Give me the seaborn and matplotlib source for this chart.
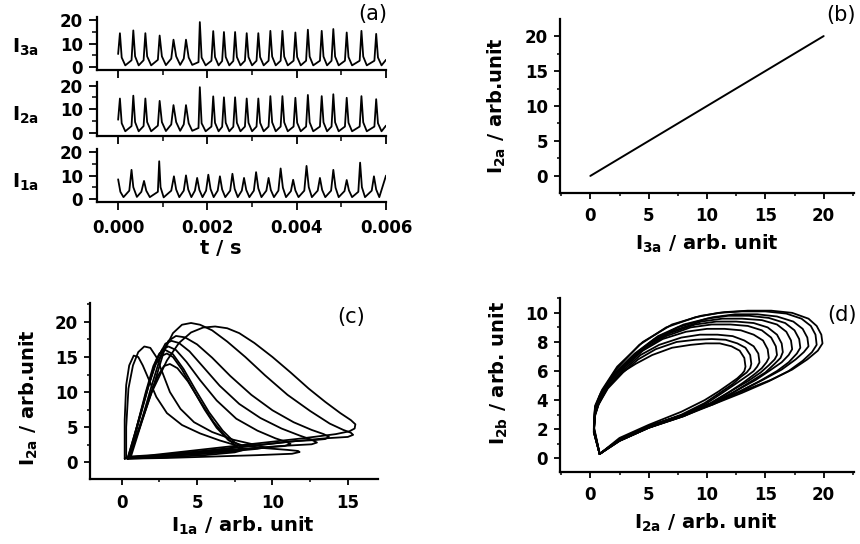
import numpy as np
import pandas as pd
import matplotlib
matplotlib.use("Agg")
import matplotlib.pyplot as plt
import seaborn as sns
from matplotlib.ticker import MultipleLocator, FormatStrFormatter

# ---------------- panel (a): time series ----------------
t_3a = [0.00000, 0.00004, 0.00008, 0.00016,
        0.00030, 0.00034, 0.00038, 0.00046, 0.00057, 0.00061, 0.00065, 0.00074,
        0.00089, 0.00093, 0.00098, 0.00107, 0.00119, 0.00124, 0.00130, 0.00139,
        0.00147, 0.00152, 0.00158, 0.00166, 0.00180, 0.00183, 0.00187, 0.00196,
        0.00209, 0.00213, 0.00217, 0.00225, 0.00233, 0.00237, 0.00241, 0.00249,
        0.00258, 0.00262, 0.00266, 0.00274, 0.00284, 0.00288, 0.00292, 0.00300,
        0.00310, 0.00314, 0.00318, 0.00326, 0.00337, 0.00341, 0.00345, 0.00353,
        0.00364, 0.00368, 0.00372, 0.00380, 0.00393, 0.00397, 0.00401, 0.00409,
        0.00421, 0.00425, 0.00429, 0.00437, 0.00452, 0.00456, 0.00460, 0.00468,
        0.00478, 0.00482, 0.00486, 0.00494, 0.00508, 0.00512, 0.00516, 0.00524,
        0.00541, 0.00545, 0.00549, 0.00557, 0.00574, 0.00578, 0.00582, 0.00590,
        0.00600]
I_3a = [5.5, 14.5, 4.0, 0.6,
        2.8, 15.7, 4.5, 0.6, 2.8, 14.5, 4.5, 0.6,
        3.0, 13.5, 4.5, 0.7, 3.5, 11.7, 4.5, 0.8,
        3.5, 11.7, 4.0, 0.8, 2.0, 19.3, 4.0, 0.6,
        2.6, 15.4, 4.2, 0.6, 2.5, 15.0, 4.2, 0.6,
        2.5, 15.0, 4.2, 0.6, 2.6, 14.5, 4.2, 0.6,
        2.6, 14.5, 4.2, 0.6, 2.6, 15.5, 4.4, 0.6,
        2.6, 15.5, 4.4, 0.6, 2.6, 14.8, 4.2, 0.6,
        2.6, 16.0, 4.4, 0.6, 2.6, 15.5, 4.4, 0.6,
        2.6, 16.3, 4.4, 0.6, 2.6, 14.8, 4.2, 0.6,
        2.6, 15.5, 4.4, 0.6, 2.6, 14.2, 4.0, 0.6,
        3.0]
# I_2a is synchronized with I_3a (identical trace in the figure)
t_2a = list(t_3a)
I_2a = [5.5, 14.5, 4.0, 0.6,
        2.8, 15.7, 4.5, 0.6, 2.8, 14.5, 4.5, 0.6,
        3.0, 13.5, 4.5, 0.7, 3.5, 11.7, 4.5, 0.8,
        3.5, 11.7, 4.0, 0.8, 2.0, 19.3, 4.0, 0.6,
        2.6, 15.4, 4.2, 0.6, 2.5, 15.0, 4.2, 0.6,
        2.5, 15.0, 4.2, 0.6, 2.6, 14.5, 4.2, 0.6,
        2.6, 14.5, 4.2, 0.6, 2.6, 15.5, 4.4, 0.6,
        2.6, 15.5, 4.4, 0.6, 2.6, 14.8, 4.2, 0.6,
        2.6, 16.0, 4.4, 0.6, 2.6, 15.5, 4.4, 0.6,
        2.6, 16.3, 4.4, 0.6, 2.6, 14.8, 4.2, 0.6,
        2.6, 15.5, 4.4, 0.6, 2.6, 14.2, 4.0, 0.6,
        3.0]
t_1a = [0.00000, 0.00005, 0.00012,
        0.00025, 0.00030, 0.00034, 0.00042, 0.00052, 0.00058, 0.00063, 0.00071,
        0.00089, 0.00092, 0.00095, 0.00102, 0.00119, 0.00125, 0.00130, 0.00137,
        0.00147, 0.00152, 0.00157, 0.00164, 0.00172, 0.00177, 0.00182, 0.00189,
        0.00197, 0.00202, 0.00207, 0.00214, 0.00223, 0.00228, 0.00233, 0.00240,
        0.00251, 0.00256, 0.00261, 0.00268, 0.00277, 0.00282, 0.00287, 0.00294,
        0.00304, 0.00309, 0.00314, 0.00321, 0.00332, 0.00337, 0.00342, 0.00349,
        0.00359, 0.00364, 0.00369, 0.00376, 0.00387, 0.00392, 0.00397, 0.00404,
        0.00417, 0.00422, 0.00427, 0.00434, 0.00447, 0.00452, 0.00457, 0.00464,
        0.00477, 0.00482, 0.00487, 0.00494, 0.00507, 0.00512, 0.00517, 0.00524,
        0.00538, 0.00542, 0.00546, 0.00553, 0.00568, 0.00573, 0.00578, 0.00585,
        0.00600]
I_1a = [8.4, 3.0, 0.7,
        3.5, 12.5, 5.0, 0.8, 3.0, 7.7, 3.5, 0.7,
        3.0, 16.2, 5.0, 0.6, 3.5, 9.7, 4.0, 0.7,
        3.5, 10.1, 4.0, 0.7, 3.5, 9.0, 3.8, 0.7,
        3.5, 10.4, 4.2, 0.7, 3.5, 9.7, 4.0, 0.7,
        3.5, 10.8, 4.3, 0.7, 3.5, 9.0, 3.8, 0.7,
        3.5, 11.5, 4.5, 0.7, 3.5, 9.0, 3.8, 0.7,
        3.5, 13.1, 4.8, 0.7, 3.3, 8.2, 3.6, 0.7,
        3.5, 14.2, 5.0, 0.7, 3.5, 9.0, 3.8, 0.7,
        3.5, 12.5, 4.8, 0.7, 3.3, 8.1, 3.6, 0.7,
        3.0, 15.6, 5.0, 0.7, 3.5, 9.7, 4.0, 0.7,
        10.0]

# ---------------- panel (b): I_2a vs I_3a ----------------
b_I3a = [0.0, 20.0]
b_I2a = [0.0, 20.0]

# ---------------- panel (c): I_2a vs I_1a loops ----------------
c_loops_x = [
    [0.5, 1.2, 2.0, 3.0, 3.8, 4.6, 5.4, 6.2, 7.0, 7.8, 8.8, 10.0, 11.2, 12.4, 13.5, 14.5, 15.2, 15.5, 15.45, 15.1, 14.2, 12.0, 9.5, 7.0, 4.5, 2.0, 0.5],
    [0.6, 1.3, 2.2, 2.8, 3.4, 4.0, 4.6, 5.2, 6.0, 7.0, 8.2, 9.5, 11.0, 12.5, 13.8, 14.7, 15.2, 15.35, 15.0, 13.5, 11.0, 8.0, 5.0, 2.5, 0.6],
    [0.5, 1.2, 2.0, 2.6, 3.1, 3.6, 4.2, 5.0, 6.0, 7.2, 8.6, 10.0, 11.4, 12.6, 13.4, 13.75, 13.5, 12.8, 11.5, 9.0, 6.0, 3.0, 0.5],
    [0.4, 1.0, 1.8, 2.4, 2.9, 3.3, 3.8, 4.5, 5.4, 6.5, 7.8, 9.2, 10.6, 11.8, 12.6, 12.95, 12.6, 10.5, 8.0, 5.0, 2.5, 0.4],
    [0.5, 1.1, 1.8, 2.3, 2.7, 3.1, 3.6, 4.3, 5.2, 6.3, 7.6, 9.0, 10.2, 10.9, 11.2, 10.8, 9.0, 6.5, 4.0, 1.5, 0.5],
    [0.4, 1.0, 1.7, 2.2, 2.6, 3.0, 3.4, 4.0, 4.7, 5.5, 6.3, 7.1, 8.0, 9.5, 11.0, 11.7, 11.8, 11.3, 9.0, 6.0, 3.0, 0.4],
    [0.4, 1.1, 1.8, 2.4, 2.8, 3.2, 3.7, 4.4, 5.2, 6.1, 7.0, 7.7, 8.0, 7.5, 5.5, 3.0, 0.4],
    [0.5, 1.0, 1.6, 2.1, 2.5, 2.9, 3.4, 4.1, 4.9, 5.8, 6.7, 7.5, 8.0, 7.6, 5.5, 3.0, 0.5],
    [0.3, 0.3, 0.45, 0.75, 1.1, 1.5, 1.9, 2.3, 2.7, 3.2, 3.9, 4.8, 6.0, 7.4, 8.8, 9.5, 9.0, 7.0, 4.5, 2.0, 0.3],
    [0.2, 0.2, 0.3, 0.5, 0.8, 1.1, 1.4, 1.8, 2.3, 3.0, 4.0, 5.2, 6.5, 7.6, 7.2, 5.0, 2.5, 0.2],
]
c_loops_y = [
    [0.8, 5.0, 10.0, 14.5, 17.0, 18.5, 19.2, 19.35, 19.1, 18.4, 17.0, 15.0, 12.8, 10.5, 8.6, 7.0, 6.0, 5.4, 4.8, 4.4, 4.0, 3.4, 2.8, 2.2, 1.6, 1.0, 0.8],
    [0.7, 5.5, 11.5, 15.8, 18.4, 19.6, 19.85, 19.6, 18.8, 17.2, 15.0, 12.4, 9.6, 7.3, 5.5, 4.6, 4.2, 3.9, 3.6, 3.4, 2.9, 2.2, 1.5, 1.0, 0.7],
    [0.7, 5.0, 11.0, 15.2, 17.3, 18.0, 17.8, 16.8, 14.9, 12.3, 9.6, 7.4, 5.7, 4.6, 4.0, 3.6, 3.3, 3.15, 3.0, 2.4, 1.7, 1.1, 0.7],
    [0.6, 5.0, 11.0, 14.9, 16.9, 17.3, 17.0, 15.8, 13.6, 10.9, 8.3, 6.3, 4.8, 3.8, 3.2, 2.8, 2.55, 2.3, 1.9, 1.4, 0.9, 0.6],
    [0.6, 5.5, 11.0, 14.6, 16.1, 16.5, 16.0, 14.3, 11.7, 8.8, 6.2, 4.5, 3.4, 2.9, 2.6, 2.3, 2.0, 1.5, 1.1, 0.7, 0.6],
    [0.5, 5.0, 10.5, 13.8, 15.1, 15.5, 15.0, 13.2, 10.5, 7.5, 4.9, 3.1, 2.4, 2.0, 1.75, 1.6, 1.45, 1.2, 1.0, 0.8, 0.6, 0.5],
    [0.5, 4.5, 9.0, 12.3, 13.7, 14.0, 13.4, 11.5, 8.7, 5.7, 3.4, 2.1, 1.7, 1.4, 1.0, 0.7, 0.5],
    [0.6, 5.0, 10.0, 13.7, 15.5, 16.0, 15.4, 13.3, 10.3, 7.1, 4.5, 2.8, 2.1, 1.6, 1.2, 0.9, 0.6],
    [0.6, 5.0, 10.5, 13.8, 15.7, 16.5, 16.3, 15.0, 12.8, 10.0, 7.6, 5.7, 4.3, 3.2, 2.5, 2.1, 1.9, 1.5, 1.1, 0.8, 0.6],
    [0.5, 6.0, 11.0, 13.8, 15.2, 15.0, 13.8, 11.8, 9.3, 7.0, 5.3, 4.1, 3.1, 2.4, 1.9, 1.3, 0.8, 0.5],
]

# ---------------- panel (d): I_2b vs I_2a loops ----------------
d_loops_x = [
    [0.8, 2.5, 5.0, 8.0, 10.5, 13.0, 15.5, 17.3, 18.6, 19.5, 19.9, 19.8, 19.4, 18.7, 17.3, 15.5, 13.5, 11.5, 9.5, 7.0, 4.5, 2.3, 1.0, 0.4, 0.3, 0.8],
    [0.8, 2.5, 5.0, 8.0, 10.5, 13.0, 15.3, 17.0, 18.2, 19.0, 19.4, 19.3, 18.9, 18.1, 16.8, 15.0, 13.0, 11.0, 9.0, 6.5, 4.2, 2.2, 0.9, 0.4, 0.3, 0.8],
    [0.8, 2.5, 5.0, 8.0, 10.5, 12.8, 14.8, 16.4, 17.6, 18.3, 18.7, 18.6, 18.2, 17.4, 16.0, 14.3, 12.4, 10.5, 8.0, 5.8, 3.8, 2.0, 0.8, 0.4, 0.3, 0.8],
    [0.8, 2.5, 5.0, 8.0, 10.5, 12.6, 14.5, 16.0, 17.0, 17.7, 18.0, 17.9, 17.5, 16.7, 15.3, 13.6, 11.8, 10.0, 7.5, 5.5, 3.6, 1.9, 0.8, 0.4, 0.3, 0.8],
    [0.8, 2.5, 5.0, 8.0, 10.5, 12.4, 14.2, 15.5, 16.4, 17.0, 17.3, 17.2, 16.8, 16.0, 14.7, 13.0, 11.3, 9.5, 7.2, 5.2, 3.4, 1.8, 0.8, 0.4, 0.3, 0.8],
    [0.8, 2.5, 5.0, 8.0, 10.3, 12.2, 13.8, 15.0, 15.8, 16.3, 16.5, 16.4, 16.0, 15.2, 14.0, 12.5, 10.8, 9.0, 6.8, 4.9, 3.2, 1.7, 0.7, 0.4, 0.3, 0.8],
    [0.8, 2.5, 5.0, 8.0, 10.3, 12.0, 13.5, 14.6, 15.3, 15.8, 16.0, 15.9, 15.5, 14.7, 13.5, 12.0, 10.4, 8.6, 6.5, 4.7, 3.1, 1.6, 0.7, 0.4, 0.3, 0.8],
    [0.8, 2.5, 5.0, 8.0, 10.2, 11.8, 13.1, 14.1, 14.7, 15.1, 15.3, 15.2, 14.8, 14.0, 12.9, 11.5, 10.0, 8.2, 6.2, 4.5, 3.0, 1.6, 0.7, 0.4, 0.3, 0.8],
    [0.8, 2.5, 5.0, 8.0, 10.0, 11.5, 12.6, 13.5, 14.0, 14.3, 14.5, 14.4, 14.0, 13.2, 12.2, 10.9, 9.4, 7.8, 5.9, 4.3, 2.9, 1.5, 0.7, 0.4, 0.3, 0.8],
    [0.8, 2.5, 5.0, 7.8, 9.8, 11.1, 12.2, 12.9, 13.4, 13.7, 13.8, 13.7, 13.3, 12.6, 11.6, 10.4, 9.0, 7.4, 5.6, 4.1, 2.8, 1.5, 0.7, 0.4, 0.3, 0.8],
    [0.8, 2.5, 5.0, 7.8, 9.8, 11.0, 11.9, 12.6, 13.0, 13.2, 13.3, 13.2, 12.8, 12.1, 11.1, 9.9, 8.6, 7.0, 5.3, 3.9, 2.7, 1.4, 0.7, 0.4, 0.3, 0.8],
]
d_loops_y = [
    [0.3, 1.3, 2.2, 3.0, 3.8, 4.6, 5.4, 6.1, 6.8, 7.4, 7.9, 8.5, 9.1, 9.6, 10.0, 10.15, 10.15, 10.05, 9.8, 9.2, 8.0, 6.3, 4.7, 3.6, 2.2, 0.3],
    [0.3, 1.2, 2.1, 3.0, 3.7, 4.5, 5.3, 6.0, 6.7, 7.3, 7.8, 8.5, 9.1, 9.6, 9.95, 10.1, 10.1, 10.0, 9.7, 9.0, 7.8, 6.1, 4.5, 3.5, 2.1, 0.3],
    [0.3, 1.3, 2.2, 3.0, 3.8, 4.6, 5.4, 6.1, 6.8, 7.3, 7.7, 8.3, 8.9, 9.4, 9.75, 9.9, 9.9, 9.7, 9.2, 8.4, 7.2, 5.8, 4.3, 3.4, 2.0, 0.3],
    [0.3, 1.2, 2.1, 2.9, 3.7, 4.5, 5.3, 6.0, 6.6, 7.2, 7.6, 8.2, 8.8, 9.3, 9.65, 9.8, 9.8, 9.6, 9.0, 8.2, 7.0, 5.6, 4.2, 3.4, 2.0, 0.3],
    [0.3, 1.3, 2.2, 3.0, 3.8, 4.6, 5.4, 6.1, 6.6, 7.1, 7.5, 8.1, 8.7, 9.2, 9.5, 9.6, 9.6, 9.4, 8.8, 8.0, 6.8, 5.5, 4.2, 3.3, 2.0, 0.3],
    [0.3, 1.2, 2.1, 2.9, 3.7, 4.5, 5.3, 5.9, 6.5, 6.9, 7.3, 7.9, 8.5, 9.0, 9.3, 9.4, 9.4, 9.2, 8.6, 7.8, 6.6, 5.3, 4.0, 3.2, 1.9, 0.3],
    [0.3, 1.3, 2.2, 3.0, 3.8, 4.6, 5.3, 5.9, 6.4, 6.8, 7.1, 7.7, 8.3, 8.8, 9.1, 9.2, 9.2, 9.0, 8.4, 7.6, 6.5, 5.2, 3.9, 3.1, 1.9, 0.3],
    [0.3, 1.2, 2.1, 2.9, 3.7, 4.5, 5.2, 5.8, 6.2, 6.6, 6.9, 7.5, 8.1, 8.5, 8.8, 8.9, 8.9, 8.7, 8.2, 7.4, 6.3, 5.0, 3.8, 3.0, 1.8, 0.3],
    [0.3, 1.3, 2.2, 3.0, 3.8, 4.6, 5.2, 5.7, 6.0, 6.3, 6.6, 7.2, 7.7, 8.1, 8.4, 8.5, 8.5, 8.3, 7.8, 7.1, 6.1, 4.9, 3.7, 3.0, 1.8, 0.3],
    [0.3, 1.3, 2.2, 3.0, 3.8, 4.5, 5.1, 5.6, 5.9, 6.2, 6.5, 7.1, 7.6, 7.9, 8.15, 8.2, 8.15, 8.0, 7.5, 6.8, 5.9, 4.8, 3.7, 3.0, 1.8, 0.3],
    [0.3, 1.4, 2.3, 3.2, 4.0, 4.6, 5.1, 5.5, 5.8, 6.0, 6.3, 6.9, 7.4, 7.7, 7.9, 7.9, 7.8, 7.6, 7.1, 6.5, 5.9, 4.9, 3.7, 2.9, 1.8, 0.3],
]

panel_labels = ["(a)", "(b)", "(c)", "(d)"]

for xs, ys in list(zip(c_loops_x, c_loops_y)) + list(zip(d_loops_x, d_loops_y)):
    assert len(xs) == len(ys)
assert len(t_3a) == len(I_3a) == len(I_2a) and len(t_1a) == len(I_1a)

# ---------------- styling ----------------
sns.set_style("ticks")
plt.rcParams["font.family"] = ["DejaVu Sans"]
plt.rcParams["font.weight"] = "bold"
plt.rcParams["axes.labelweight"] = "bold"
plt.rcParams["text.color"] = "black"
plt.rcParams["axes.labelcolor"] = "black"
plt.rcParams["xtick.color"] = "black"
plt.rcParams["ytick.color"] = "black"
plt.rcParams["mathtext.fontset"] = "custom"
plt.rcParams["mathtext.rm"] = "DejaVu Sans:bold"
plt.rcParams["mathtext.bf"] = "DejaVu Sans:bold"
plt.rcParams["mathtext.it"] = "DejaVu Sans:bold"
plt.rcParams["mathtext.default"] = "bf"

W, H = 860, 544
fig = plt.figure(figsize=(W / 100, H / 100), dpi=100)
fig.patch.set_facecolor("white")

TICK_FS = 12
LAB_FS = 14
LW = 1.3


def px_axes(l, t, r, b):
    return fig.add_axes([l / W, 1 - b / H, (r - l) / W, (b - t) / H])


def style(ax, maj=4.5, mino=2.5, xpad=6, ypad=4):
    sns.despine(ax=ax)
    ax.set_facecolor("white")
    for s in ["left", "bottom"]:
        ax.spines[s].set_linewidth(1.6)
        ax.spines[s].set_color("black")
    ax.tick_params(which="major", direction="out", length=maj, width=1.3,
                   colors="black", labelsize=TICK_FS)
    ax.tick_params(which="minor", direction="out", length=mino, width=1.1,
                   colors="black")
    ax.tick_params(axis="x", which="major", pad=xpad)
    ax.tick_params(axis="y", which="major", pad=ypad)
    ax.grid(False)


def sub(s):
    return r"$I_{%s}$" % s


# ---- panel (a) ----
a_boxes = [(96.7, 17, 386, 70), (96.7, 82, 386, 136), (96.7, 149, 386, 202)]
a_series = [(t_3a, I_3a, "3a"), (t_2a, I_2a, "2a"), (t_1a, I_1a, "1a")]
a_label_y = [0.43, 0.39, 0.38]
for i, (box, (tt, vv, nm)) in enumerate(zip(a_boxes, a_series)):
    ax = px_axes(*box)
    sns.lineplot(x=tt, y=vv, sort=False, estimator=None, color="black",
                 lw=LW, ax=ax)
    ax.set_xlim(-0.00048, 0.006)
    ax.set_ylim(-1.4, 21.5)
    ax.xaxis.set_major_locator(MultipleLocator(0.002))
    ax.xaxis.set_minor_locator(MultipleLocator(0.001))
    ax.yaxis.set_major_locator(MultipleLocator(10))
    ax.yaxis.set_minor_locator(MultipleLocator(5))
    ax.xaxis.set_major_formatter(FormatStrFormatter("%.3f"))
    style(ax, maj=6, mino=3.5, xpad=6, ypad=4)
    ax.set_ylabel(sub(nm), rotation=0, fontsize=LAB_FS, ha="center", va="center")
    ax.yaxis.set_label_coords(-0.245, a_label_y[i])
    if i < 2:
        ax.tick_params(axis="x", labelbottom=False)
        ax.set_xlabel("")
    else:
        ax.set_xlabel("t / s", fontsize=LAB_FS)
        ax.xaxis.set_label_coords(0.43, -0.70)

# ---- panel (b) ----
axb = px_axes(560, 19.3, 854, 192.7)
sns.lineplot(x=b_I3a, y=b_I2a, sort=False, estimator=None, color="black",
             lw=LW + 0.1, ax=axb)
axb.set_xlim(-2.6, 22.6)
axb.set_ylim(-2.4, 22.4)
axb.xaxis.set_major_locator(MultipleLocator(5))
axb.xaxis.set_minor_locator(MultipleLocator(2.5))
axb.yaxis.set_major_locator(MultipleLocator(5))
axb.yaxis.set_minor_locator(MultipleLocator(2.5))
style(axb)
axb.set_xlabel(sub("3a") + " / arb. unit", fontsize=LAB_FS)
axb.set_ylabel(sub("2a") + " / arb.unit", fontsize=LAB_FS)
axb.xaxis.set_label_coords(0.5, -0.23)
axb.yaxis.set_label_coords(-0.177, 0.5)

# ---- panel (c) ----
axc = px_axes(90, 303, 378, 479)
c_df = pd.DataFrame({
    "I1a": [v for lp in c_loops_x for v in lp],
    "I2a": [v for lp in c_loops_y for v in lp],
    "loop": [k for k, lp in enumerate(c_loops_x) for _ in lp],
})
sns.lineplot(data=c_df, x="I1a", y="I2a", units="loop", estimator=None,
             sort=False, color="black", lw=LW, ax=axc, legend=False)
axc.set_xlim(-2.1, 17.0)
axc.set_ylim(-2.4, 22.7)
axc.xaxis.set_major_locator(MultipleLocator(5))
axc.xaxis.set_minor_locator(MultipleLocator(2.5))
axc.yaxis.set_major_locator(MultipleLocator(5))
axc.yaxis.set_minor_locator(MultipleLocator(2.5))
style(axc)
axc.set_xlabel(sub("1a") + " / arb. unit", fontsize=LAB_FS)
axc.set_ylabel(sub("2a") + " / arb.unit", fontsize=LAB_FS)
axc.xaxis.set_label_coords(0.53, -0.205)
axc.yaxis.set_label_coords(-0.174, 0.46)

# ---- panel (d) ----
axd = px_axes(560, 298.3, 854, 471.7)
d_df = pd.DataFrame({
    "I2a": [v for lp in d_loops_x for v in lp],
    "I2b": [v for lp in d_loops_y for v in lp],
    "loop": [k for k, lp in enumerate(d_loops_x) for _ in lp],
})
sns.lineplot(data=d_df, x="I2a", y="I2b", units="loop", estimator=None,
             sort=False, color="black", lw=LW, ax=axd, legend=False)
axd.set_xlim(-2.6, 22.6)
axd.set_ylim(-0.92, 11.0)
axd.xaxis.set_major_locator(MultipleLocator(5))
axd.xaxis.set_minor_locator(MultipleLocator(2.5))
axd.yaxis.set_major_locator(MultipleLocator(2))
axd.yaxis.set_minor_locator(MultipleLocator(1))
style(axd)
axd.set_xlabel(sub("2a") + " / arb. unit", fontsize=LAB_FS)
axd.set_ylabel(sub("2b") + " / arb. unit", fontsize=LAB_FS)
axd.xaxis.set_label_coords(0.497, -0.232)
axd.yaxis.set_label_coords(-0.17, 0.572)

# panel letters
for lab, (x, y) in zip(panel_labels, [(373, 14), (841, 15), (351, 317), (842, 315)]):
    fig.text(x / W, 1 - y / H, lab, fontsize=15, fontweight="normal",
             color="black", ha="center", va="center")

fig.savefig("out.png", dpi=100, facecolor="white")
